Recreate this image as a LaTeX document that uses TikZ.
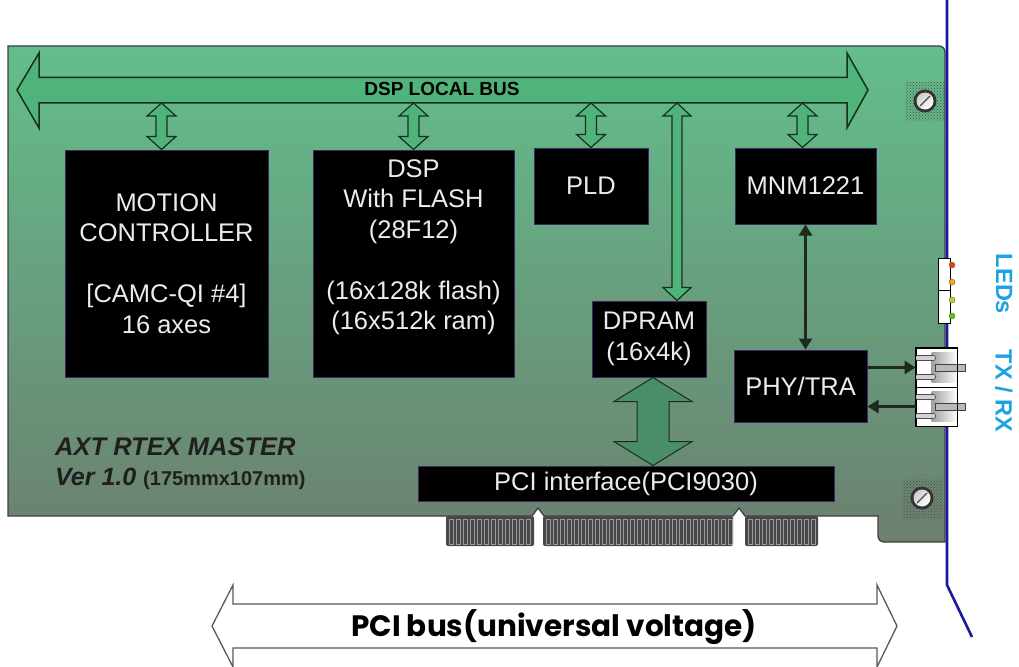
\documentclass[tikz,border=0pt]{standalone}
\usepackage{fontspec}
\setmainfont{Liberation Sans}
\newfontfamily\gothic{Poppins}
\usetikzlibrary{arrows.meta,patterns,calc}
\definecolor{boardtop}{RGB}{99,190,139}
\definecolor{boardmid}{RGB}{92,166,122}
\definecolor{boardbot}{RGB}{108,128,112}
\definecolor{busgreen}{RGB}{80,180,122}
\definecolor{bigarrow}{RGB}{74,142,104}
\definecolor{darkgreen}{RGB}{22,48,28}
\definecolor{boxline}{RGB}{60,40,100}
\definecolor{boxtext}{RGB}{236,236,236}
\definecolor{bracket}{RGB}{26,26,160}
\definecolor{cyanlbl}{RGB}{28,162,226}
\definecolor{arrowdark}{RGB}{30,42,32}
\definecolor{fingerdark}{RGB}{72,72,72}
\newcommand\vdbl[6]{%
 \path[#1] let \p1=(#2), \p2=(#3) in
  (\x1,\y1) -- (\x1+#4pt,\y1-#6pt) -- (\x1+#5pt,\y1-#6pt) -- (\x1+#5pt,\y2+#6pt) -- (\x1+#4pt,\y2+#6pt) -- (\x1,\y2) -- (\x1-#4pt,\y2+#6pt) -- (\x1-#5pt,\y2+#6pt) -- (\x1-#5pt,\y1-#6pt) -- (\x1-#4pt,\y1-#6pt) -- cycle;}
\newcommand\screwat[1]{%
 \fill[pattern=crosshatch dots, pattern color=gray!60!black] ($(#1)+(-20,-19)$) rectangle ($(#1)+(21,20)$);
 \fill[black!80] (#1) circle (11.5);
 \shade[left color=gray!40, right color=white, shading angle=45] (#1) circle (8.5);
 \draw[gray!60!black, line width=1.2] ($(#1)+(-5,5)$) -- ($(#1)+(5,-5)$);
}
\newcommand\jack[1]{%
 \shade[left color=gray!75, right color=white] ($(#1)+(16,-15)$) rectangle ($(#1)+(42,15)$);
 \fill[gray!55, draw=gray!50!black, line width=0.6] ($(#1)+(20,-3.5)$) rectangle ($(#1)+(50,3.5)$);
 \fill[gray!35, draw=gray!60!black, line width=0.6, rounded corners=2] ($(#1)+(0,-12)$) rectangle ($(#1)+(20,-7)$);
 \fill[gray!35, draw=gray!60!black, line width=0.6, rounded corners=2] ($(#1)+(0,7)$) rectangle ($(#1)+(20,12)$);
}
\begin{document}
\begin{tikzpicture}[x=1pt,y=-1pt,
  box/.style={draw=boxline, line width=1, fill=black, text=boxtext, font=\fontsize{25.5}{30.5}\selectfont, align=center, inner sep=0},
  btext/.style={text=boxtext, font=\fontsize{25.5}{30.5}\selectfont, align=center, inner sep=0},
  sarrow/.style={fill=busgreen, draw=darkgreen, line width=1.2, line join=miter},
  barrow/.style={fill=bigarrow, draw=darkgreen, line width=1, line join=miter},
  blkline/.style={line width=3, draw=arrowdark},
  tip/.style={-{Triangle[length=11pt,width=13pt]}},
  conbox/.style={draw=black, fill=white, line width=1, minimum width=41, minimum height=39, inner sep=0},
  lbl/.style={text=cyanlbl, font=\bfseries\fontsize{23.5}{25}\selectfont, rotate=-90, inner sep=0}]
\useasboundingbox (0,0) rectangle (1019,666);
\fill[white] (0,0) rectangle (1019,666);
% board
\shade[top color=boardtop, middle color=boardmid, bottom color=boardbot, draw=black!75, line width=1.3]
 (8,46) -- (939,46) to[out=0,in=90] (945,52) -- (945,542) -- (884,542) to[out=180,in=-90] (878,536) -- (878,516)
 -- (745,516) -- (739,508) -- (733,516) -- (544,516) -- (538,508) -- (532,516) -- (8,516) -- cycle;
% gold fingers
\foreach \a/\b in {446/534, 543/733, 745/818} {
  \fill[fingerdark, rounded corners=2] (\a,516) rectangle (\b,546);
  \pgfmathtruncatemacro\nf{(\b-\a-6)/7}
  \foreach \i in {0,...,\nf} {
    \draw[gray!80, line width=0.8] ({\a+3+7*\i},519) rectangle ++(4,25);
  }
}
% bracket
\draw[bracket, line width=2.6] (947,0) -- (947,585) -- (972,637);
% screws
\coordinate (s1) at (925,101);
\coordinate (s2) at (922,498);
\screwat{s1}
\screwat{s2}
% DSP local bus
\path[sarrow, line width=1.5] (17,90) -- (39,53) -- (39,77.5) -- (847,77.5) -- (847,53) -- (868,90) -- (847,128) -- (847,103) -- (39,103) -- (39,128) -- cycle;
\coordinate (busB) at (0,103);
\node[font=\bfseries\fontsize{19}{20}\selectfont, text=black, inner sep=0] (buslbl) at (442,89) {DSP LOCAL BUS};
% boxes
\node[box, minimum width=203, minimum height=227] (mc) at (166.5,263.5) {MOTION\\CONTROLLER\\\mbox{}\\{[CAMC-QI \#4]}\\16 axes};
\node[box, minimum width=201, minimum height=227] (dsp) at (413.5,263.5) {};
\node[btext] (dsptxt) at (413.5,247) {DSP\\With FLASH\\(28F12)\\\mbox{}\\(16x128k flash)\\(16x512k ram)};
\node[box, minimum width=114, minimum height=76] (pld) at (591,186) {PLD};
\node[box, minimum width=141, minimum height=76] (mnm) at (805.5,186) {MNM1221};
\node[box, minimum width=114, minimum height=76] (dpram) at (649,339) {DPRAM\\(16x4k)};
\node[box, minimum width=133, minimum height=72] (phy) at (800.5,386) {PHY/TRA};
\node[box, minimum width=416, minimum height=35] (pci) at (626,483.5) {PCI interface(PCI9030)};
% small bus arrows
\coordinate (a1) at ([xshift=-5pt]mc.north);
\coordinate (a4) at ([xshift=-3pt]mnm.north);
\vdbl{sarrow}{a1 |- busB}{a1}{14.5}{5.5}{13}
\vdbl{sarrow}{dsp.north |- busB}{dsp.north}{14.5}{5.5}{13}
\vdbl{sarrow}{pld.north |- busB}{pld.north}{14.5}{5.5}{13}
\vdbl{sarrow}{a4 |- busB}{a4}{14.5}{5.5}{13}
% long arrow to DPRAM
\coordinate (labot) at ([xshift=28pt]dpram.north);
\coordinate (latop) at (labot |- busB);
\vdbl{sarrow}{latop}{labot}{14}{5}{13}
% big arrow DPRAM - PCI
\coordinate (bat) at ([xshift=4pt]dpram.south);
\coordinate (bab) at (bat |- pci.north);
\vdbl{barrow}{bat}{bab}{39}{16}{24}
% connector and LEDs
\node[conbox] (conn1) at (936.5,367.5) {};
\node[conbox] (conn2) at (936.5,406.5) {};
\jack{conn1.west}
\jack{conn2.west}
\draw[black, line width=1] (conn1.north west) rectangle (conn2.south east);
\draw[black, line width=1] (conn1.south west) -- (conn1.south east);
\node[draw=black, fill=white, line width=1, minimum width=12, minimum height=65, inner sep=0] (leds) at (944,290.5) {};
\draw[black, line width=0.8] (leds.west) -- (leds.east);
\fill[red!55!orange, draw=black!60, line width=0.4] (952,265) circle (3);
\fill[orange!70!yellow, draw=black!60, line width=0.4] (952,282) circle (3);
\fill[yellow!70!green, draw=black!60, line width=0.4] (952,300) circle (3);
\fill[green!60!yellow!80!black, draw=black!60, line width=0.4] (952,316) circle (3);
% black arrows
\draw[blkline, {Triangle[length=11pt,width=13pt]}-{Triangle[length=11pt,width=13pt]}] (mnm.south) -- (mnm.south |- phy.north);
\draw[blkline, tip] (phy.east |- conn1.west) -- (conn1.west);
\draw[blkline, tip] (conn2.west) -- (phy.east |- conn2.west);
% side labels
\node[lbl] (ledlbl) at (1004,284) {LEDs};
\node[lbl] (txrx) at (1004,391) {TX / RX};
% board title
\node[anchor=base west, inner sep=0, text=black!88, font=\bfseries\itshape\fontsize{25.5}{27}\selectfont] (title) at (55,455) {AXT RTEX MASTER};
\node[anchor=base west, inner sep=0, text=black!88, font=\bfseries\fontsize{25}{27}\selectfont] (ver) at (55,485) {\itshape Ver 1.0 \upshape\fontsize{20}{22}\selectfont(175mmx107mm)};
% PCI bus
\path[fill=white, draw=black!65, line width=1.3, line join=miter] (212,626) -- (233,585) -- (233,604) -- (877,604) -- (877,585) -- (897,626) -- (877,667) -- (877,648) -- (233,648) -- (233,667) -- cycle;
\node[inner sep=0, font=\gothic\bfseries\fontsize{29.5}{32}\selectfont, text=black] (pcibus) at (554,627) {PCI bus(universal voltage)};
\end{tikzpicture}
\end{document}
